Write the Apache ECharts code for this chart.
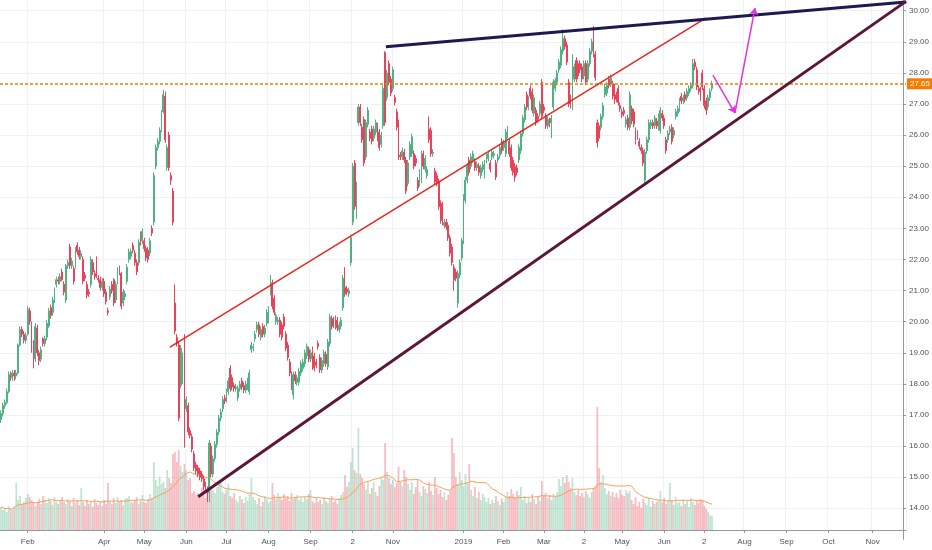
<!DOCTYPE html>
<html>
<head>
<meta charset="utf-8">
<title>Candles</title>
<script src="https://cdn.jsdelivr.net/npm/echarts/dist/echarts.min.js"></script>
<style>
  html, body { margin: 0; padding: 0; background: #fff; }
  #chart { width: 932px; height: 550px; }
</style>
</head>
<body>
<div id="chart"></div>
<script>
// daily bars [open, close, low, high]
var candlesJanApr18 = [
  [16.85,17.05,16.75,17.15],[17.05,17.3,16.95,17.4],[17.3,17.4,17.2,17.5],[17.4,17.75,17.35,17.85],
  [17.75,18.3,17.7,18.4],[18.3,18.2,18.1,18.4],[18.2,18.35,18.1,18.45],[18.35,18.25,18.1,18.45],
  [18.25,18.35,18.15,18.45],[18.35,19.25,18.3,19.3],[19.25,19.75,19.2,19.85],[19.75,19.6,19.5,19.85],
  [19.6,19.4,19.3,19.7],[19.4,19.55,19.3,19.65],[19.6,20.4,19.55,20.5],[20.35,20.0,19.9,20.45],
  [19.9,19.1,19.0,20.0],[19.3,18.65,18.5,19.4],[18.8,19.85,18.7,19.95],[19.8,19.0,18.9,19.9],
  [19.0,18.75,18.6,19.1],[18.8,19.1,18.7,19.2],[19.45,19.3,19.2,19.5],[19.3,19.45,19.2,19.55],
  [19.5,19.95,19.4,20.05],[19.85,20.35,19.8,20.45],[20.45,20.2,20.1,20.55],[20.3,20.7,20.2,20.8],
  [20.7,21.0,20.6,21.1],[21.2,21.35,21.1,21.45],[21.35,21.3,21.2,21.45],[21.3,21.45,21.2,21.55],
  [21.6,21.35,21.3,21.7],[21.2,20.95,20.85,21.3],[20.7,21.8,20.6,21.85],[21.8,21.9,21.7,22.0],
  [22.4,21.8,21.7,22.5],[21.8,21.95,21.7,22.05],[21.7,21.3,21.2,21.8],[21.75,22.3,21.7,22.4],
  [22.45,22.25,22.15,22.55],[22.3,22.1,22.0,22.4],[22.1,22.2,22.0,22.3],[22.0,21.3,21.2,22.1],
  [21.5,21.4,21.3,21.6],[21.2,20.85,20.75,21.3],[20.95,20.9,20.8,21.05],[21.2,22.0,21.1,22.1],
  [21.9,21.6,21.5,22.0],[21.55,21.45,21.35,21.65],[22.0,21.45,21.4,22.1],[21.4,21.35,21.25,21.5],
  [21.35,21.1,21.0,21.45],[21.1,21.3,21.0,21.4],[21.3,20.9,20.8,21.4],[20.95,20.65,20.55,21.05],
  [20.35,20.3,20.2,20.45],[20.8,21.05,20.7,21.15],[21.2,21.0,20.9,21.3],[21.35,20.6,20.5,21.4],
  [20.7,21.2,20.6,21.3],[21.3,21.6,21.2,21.75],[21.7,21.6,21.5,21.8]
];
var candlesAprJun18 = [
  [21.55,20.5,20.4,21.6],[20.6,20.95,20.5,21.05],[20.8,20.9,20.7,21.0],[21.3,21.75,21.2,21.85],
  [22.0,22.25,21.9,22.35],[22.1,22.25,22.0,22.35],[22.45,22.3,22.2,22.55],[22.2,21.9,21.8,22.3],
  [21.9,21.6,21.5,22.0],[21.9,22.55,21.8,22.65],[22.8,22.55,22.45,22.9],[22.6,22.9,22.5,23.0],
  [22.6,22.35,22.25,22.7],[22.35,22.05,21.95,22.45],[22.3,22.0,21.9,22.4],[22.2,22.6,22.1,22.7],
  [23.0,22.85,22.75,23.1],[23.2,24.7,23.1,24.8],[25.0,25.6,24.9,25.7],[25.6,25.8,25.5,25.9],
  [25.8,26.15,25.7,26.25],[26.2,26.7,26.1,26.8],[26.75,27.3,26.7,27.45],[27.25,25.85,25.75,27.4],
  [24.95,25.6,24.85,25.7],[26.0,24.95,24.85,26.1],[24.7,24.55,24.4,24.8],[24.2,23.2,23.1,24.3],
  [20.6,19.7,19.6,21.2],[19.5,19.3,19.2,19.6],[19.25,16.9,16.8,19.35],[17.95,19.15,17.85,19.25],
  [18.1,18.9,18.0,19.0],[19.5,16.05,15.95,19.6],[17.2,17.5,17.1,17.6],[17.3,16.45,16.35,17.4],
  [16.5,16.35,16.25,16.6],[16.3,15.9,15.8,16.4],[15.75,15.3,15.2,15.85],[15.4,15.2,15.1,15.5],
  [15.3,15.1,15.0,15.4],[15.2,15.0,14.9,15.3],[15.1,14.95,14.85,15.2],[14.95,14.7,14.6,15.05],
  [14.75,14.65,14.55,14.85],[14.6,14.5,14.2,14.7],[14.5,16.1,14.2,16.2],[16.0,15.1,15.0,16.1],
  [15.1,15.6,15.0,15.7],[15.6,16.05,15.5,16.15],[16.05,16.45,15.95,16.55],[16.45,16.9,16.35,17.0],
  [16.9,17.1,16.8,17.2],[17.2,17.5,17.1,17.6]
];
var candlesJunOct18 = [
  [17.55,17.45,17.35,17.65],[17.5,17.75,17.4,17.85],[17.75,18.1,17.65,18.2],[18.5,17.85,17.75,18.6],
  [18.2,17.9,17.8,18.3],[17.95,17.85,17.75,18.05],[17.85,17.9,17.75,18.0],[17.55,17.85,17.45,17.95],
  [17.85,18.0,17.75,18.1],[18.1,17.9,17.8,18.2],[17.95,17.8,17.7,18.05],[17.8,18.0,17.7,18.1],
  [17.9,18.1,17.8,18.2],[17.75,18.35,17.65,18.45],[19.1,19.25,19.0,19.35],[19.15,19.2,19.05,19.3],
  [19.45,19.6,19.35,19.7],[19.75,19.9,19.65,20.0],[19.9,19.6,19.5,20.0],[19.5,19.75,19.4,19.85],
  [19.85,19.6,19.5,19.95],[19.6,19.8,19.5,19.9],[19.95,20.3,19.85,20.4],[20.05,20.4,19.95,20.5],
  [20.95,21.3,20.85,21.5],[21.25,20.5,20.4,21.35],[20.75,20.3,20.2,20.85],[20.0,20.2,19.9,20.3],
  [20.0,20.05,19.9,20.15],[20.05,19.6,19.5,20.15],[19.9,19.5,19.4,20.0],[20.15,19.85,19.75,20.25],
  [19.6,19.15,19.05,19.7],[19.25,18.85,18.75,19.35],[18.7,18.35,18.25,18.8],[18.3,17.9,17.8,18.4],
  [17.65,18.3,17.5,18.4],[18.3,18.1,18.0,18.4],[18.05,18.2,17.95,18.3],[18.05,18.4,17.95,18.5],
  [18.35,18.65,18.25,18.75],[18.5,18.7,18.4,18.8],[18.65,19.0,18.55,19.1],[18.9,19.2,18.8,19.3],
  [19.1,18.8,18.7,19.2],[18.8,19.0,18.7,19.1],[19.1,18.55,18.45,19.2],[18.9,18.5,18.4,19.0],
  [18.7,18.6,18.5,18.8],[19.3,19.2,19.1,19.4],[18.85,18.45,18.35,18.95],[18.45,18.75,18.35,18.85],
  [18.65,19.0,18.55,19.1],[18.95,18.65,18.55,19.05],[18.55,19.35,18.45,19.45],[19.3,20.15,19.2,20.25],
  [20.1,19.85,19.75,20.2],[20.05,19.9,19.8,20.15],[20.1,19.85,19.75,20.2],[20.05,19.8,19.7,20.15],
  [19.75,19.9,19.65,20.0],[19.85,20.05,19.75,20.15],[20.45,21.4,20.35,21.5],[21.1,20.9,20.8,21.75],
  [21.05,20.95,20.85,21.15],[20.9,21.0,20.8,21.1]
];
var candlesOct18Jan19 = [
  [21.9,22.7,21.8,22.8],[23.2,25.0,23.1,25.1],[25.1,23.7,23.6,25.2],[23.9,24.4,23.3,24.5],
  [26.4,26.9,26.3,27.0],[26.9,26.4,26.3,27.0],[26.25,25.85,25.75,26.35],[26.5,25.1,25.0,26.6],
  [25.3,26.4,25.2,26.5],[26.35,26.8,26.25,26.9],[26.1,25.9,25.8,26.2],[26.2,25.8,25.7,26.3],
  [25.9,26.2,25.8,26.3],[26.1,26.4,26.0,26.5],[26.3,25.9,25.8,26.4],[26.1,25.6,25.5,26.2],
  [25.7,26.0,25.6,26.1],[26.3,27.5,26.2,27.6],[28.65,26.4,26.3,28.7],[27.2,28.0,27.1,28.1],
  [28.3,27.7,27.6,28.4],[27.8,27.35,27.25,27.9],[27.5,28.1,27.4,28.2],[27.2,27.05,26.95,27.3],
  [26.75,26.25,26.15,26.85],[26.4,25.3,25.2,26.5],[25.35,25.3,25.2,25.45],[25.3,25.5,25.2,25.6],
  [25.45,25.2,25.1,25.55],[25.2,24.2,24.1,25.3],[24.45,25.1,24.35,25.2],[25.3,25.7,25.2,25.8],
  [25.4,25.95,25.3,26.05],[25.4,25.0,24.9,25.5],[25.25,25.1,25.0,25.35],[24.55,24.3,24.2,24.65],
  [24.45,24.8,24.35,24.9],[24.55,25.4,24.45,25.5],[25.4,25.0,24.9,25.5],[24.9,25.25,24.8,25.35],
  [24.7,24.9,24.6,25.0],[26.2,25.85,25.75,26.6],[26.15,25.4,25.3,26.25],[25.4,25.45,25.3,25.55],
  [24.85,24.5,24.4,24.95],[24.7,24.45,24.35,24.8],[24.5,23.7,23.6,24.6],[23.8,23.25,23.15,23.9],
  [23.75,23.2,23.1,23.85],[23.1,23.2,23.0,23.3],[23.2,23.05,22.95,23.3],[23.1,22.7,22.6,23.2],
  [22.7,22.2,22.1,22.8],[22.4,21.9,21.8,22.5],[21.75,21.35,21.0,21.85],[21.6,21.4,21.3,21.7],
  [20.6,21.55,20.45,21.65],[21.5,21.9,21.4,22.0],[22.05,22.6,21.95,22.7],[22.6,24.0,22.5,24.1]
];
var candlesJanMar19 = [
  [23.9,24.55,23.8,24.65],[24.55,25.0,24.45,25.1],[25.2,24.8,24.7,25.3],[25.0,25.3,24.9,25.4],
  [25.2,25.4,25.1,25.5],[25.15,24.95,24.85,25.25],[24.95,25.05,24.85,25.15],[25.0,24.8,24.7,25.1],
  [24.7,24.95,24.6,25.05],[24.9,25.05,24.8,25.15],[24.7,25.1,24.6,25.2],[25.2,25.3,25.1,25.4],
  [25.25,25.4,25.15,25.5],[25.1,24.9,24.8,25.2],[25.3,25.45,25.2,25.55],[25.35,25.4,25.25,25.5],
  [25.1,24.65,24.55,25.2],[25.2,25.3,25.1,25.4],[25.35,25.6,25.25,25.7],[25.8,25.5,25.4,25.9],
  [25.6,25.75,25.5,25.85],[25.4,26.1,25.3,26.2],[26.0,26.2,25.9,26.3],[25.8,25.4,25.3,25.9],
  [25.6,24.95,24.85,25.7],[25.2,24.8,24.7,25.3],[25.0,24.65,24.5,25.1],[24.95,24.8,24.7,25.05],
  [25.2,25.6,25.1,25.7],[25.5,26.05,25.4,26.15],[26.05,26.55,25.95,26.65],[26.5,26.9,26.4,27.0],
  [27.3,26.9,26.8,27.4],[26.9,27.15,26.8,27.25],[27.5,27.25,27.15,27.6],[27.4,26.8,26.7,27.5],
  [26.7,27.2,26.6,27.3],[26.8,26.4,26.3,26.9],[26.6,26.5,26.4,26.7],[26.7,27.0,26.6,27.1],
  [27.7,26.6,26.5,27.8],[26.9,26.8,26.7,27.0],[26.6,26.3,26.2,26.7],[26.3,26.5,26.2,26.6],
  [26.45,26.35,26.25,26.55],[26.4,26.55,25.9,26.65],[26.9,27.7,26.8,27.8],[27.5,27.75,27.4,27.85],
  [27.7,28.0,27.6,28.1],[28.1,28.35,28.0,28.45],[28.25,28.75,28.15,28.85],[28.7,29.1,28.6,29.4],
  [29.1,28.85,28.75,29.2],[28.9,28.35,28.25,29.0],[27.7,27.0,26.9,27.8],[27.2,26.95,26.85,27.3],
  [26.9,28.5,26.8,28.6],[27.8,28.2,27.7,28.3],[28.4,27.8,27.7,28.5],[28.3,27.9,27.8,28.4],
  [28.3,28.1,28.0,28.4],[28.2,27.8,27.7,28.3],[27.9,28.3,27.8,28.4],[28.3,27.7,27.6,28.4],
  [27.8,28.3,27.7,28.4]
];
var candlesAprJul19 = [
  [28.3,28.7,28.2,28.8],[28.7,29.0,28.6,29.1],[29.2,28.6,28.5,29.5],[28.6,27.85,27.75,28.7],
  [26.4,25.75,25.6,26.5],[26.3,25.9,25.8,26.4],[26.25,26.6,26.15,26.7],[26.6,26.95,26.5,27.05],
  [27.3,27.55,27.2,27.65],[27.35,27.6,27.25,27.7],[27.8,27.6,27.5,27.9],[27.65,27.85,27.55,27.95],
  [27.65,27.25,27.15,27.75],[27.55,27.1,27.0,27.65],[27.3,27.15,27.05,27.4],[27.5,27.05,26.95,27.6],
  [26.95,26.85,26.75,27.05],[26.75,26.65,26.55,26.85],[26.8,26.7,26.6,26.9],[26.35,26.5,26.25,26.6],
  [26.55,26.25,26.15,26.65],[26.25,27.3,26.15,27.4],[26.85,26.45,26.35,26.95],[26.75,26.35,26.25,26.85],
  [26.15,25.8,25.7,26.25],[26.05,25.95,25.85,26.15],[25.8,25.65,25.55,25.9],[25.6,25.5,25.4,25.7],
  [25.5,25.1,25.0,25.6],[24.55,25.45,24.45,25.55],[25.5,25.85,25.4,25.95],[25.85,26.4,25.75,26.5],
  [26.3,26.4,26.2,26.5],[26.4,26.3,26.2,26.5],[26.3,26.55,26.2,26.65],[26.45,26.3,26.2,26.55],
  [26.25,26.6,26.15,26.7],[26.15,26.8,26.05,26.9],[26.7,26.55,26.45,26.8],[26.55,26.3,26.2,26.65],
  [25.85,25.5,25.4,25.95],[25.85,26.05,25.75,26.15],[26.1,26.2,26.0,26.3],[26.25,25.8,25.7,26.35],
  [26.0,26.15,25.9,26.25],[26.6,26.75,26.5,26.85],[26.7,26.85,26.6,26.95],[26.85,27.1,26.75,27.2],
  [27.25,27.1,27.0,27.35],[27.1,27.2,27.0,27.3],[27.3,27.15,27.05,27.4],[27.2,27.4,27.1,27.5],
  [27.35,27.5,27.25,27.6],[27.5,27.6,27.4,27.7],[27.6,28.3,27.5,28.45],[28.35,28.2,28.1,28.45],
  [28.1,27.55,27.45,28.2],[27.5,27.4,27.3,27.6],[27.45,27.2,27.1,27.55],[28.0,27.55,27.45,28.1],
  [27.5,26.95,26.85,27.6],[27.1,26.8,26.65,27.2],[26.9,27.2,26.8,27.3],[27.2,27.4,27.1,27.5],
  [27.5,27.65,27.4,27.75]
];

// volume, millions
var volume2018a = [
  2.3,2.0,2.2,1.8,2.4,2.1,2.0,2.3,4.7,3.0,3.4,2.6,2.8,3.2,3.6,3.3,3.0,2.7,
  2.4,2.8,3.1,2.6,3.4,3.0,2.7,3.2,2.9,2.5,3.3,2.8,2.6,3.0,
  3.3,2.8,2.6,3.1,2.9,2.4,3.2,2.7,3.0,2.5,4.2,
  2.8,2.4,3.0,2.6,2.9,2.3,3.1,2.7,2.5,2.8,2.4,3.0,2.6,4.7,
  2.9,2.6,3.2,2.7,3.3,2.8,3.0,2.5,3.1,
  3.2,3.4,2.8,2.7,3.0,3.3,2.6,2.9,3.5,2.8,2.7,3.1,3.6,3.2,
  6.8,5.0,4.4,5.3,4.6,4.8,4.2,6.0,5.2,4.7,
  7.6,7.8,6.8,8.0,6.4,5.8,6.6,6.0,5.0,5.2,
  3.7,3.9,3.5,3.7,3.4,4.2,4.8,3.2,3.8,
  5.6,4.4,4.0,3.7,4.3,4.8,5.0,3.8
];
var volume2018b = [
  3.6,4.0,4.6,3.4,3.2,3.7,3.0,2.8,3.4,3.1,2.7,3.3,2.9,3.6,5.2,
  3.3,3.0,2.6,3.2,2.4,2.8,3.4,3.1,2.7,2.9,4.7,
  3.5,3.1,3.7,3.3,3.0,3.6,3.2,3.4,2.9,3.7,3.1,3.3,3.5,3.0,3.2,2.8,3.4,3.1,3.6,4.0,
  2.9,2.7,3.2,2.8,3.0,2.6,3.3,2.9,2.7,3.1,3.4,2.8,3.0,2.6,3.2,3.5,3.8,5.5,
  4.3,4.8,6.8,8.2,6.0,5.7,10.2,
  5.6,5.2,4.6,4.0,4.8,3.6,4.2,4.8,3.8,3.4,4.4,5.3,5.0,8.7,
  5.8,5.2,4.6,5.0,4.3,4.7,6.3,4.8,4.4,6.0,5.3,4.6,
  4.0,4.8,3.6,4.3,5.0,3.8,3.4,4.4,4.1,3.7,4.8,3.9,3.5,5.3,4.2,
  3.6,4.0,3.3,3.8,3.0,3.5,3.9,9.2,7.7,
  5.3,4.6,5.8,5.0,4.4
];
var volume2019 = [
  5.6,4.8,6.6,
  4.0,3.4,4.3,3.2,3.8,3.0,3.6,3.3,
  2.8,3.2,2.6,3.0,2.7,3.4,2.9,2.5,3.1,2.8,3.3,
  3.8,3.4,4.1,3.6,3.2,3.9,3.5,4.3,
  3.0,3.4,2.7,3.2,2.8,3.6,3.1,2.6,3.3,2.9,4.9,
  3.4,3.7,3.2,3.5,3.0,3.6,3.3,3.8,
  5.1,4.4,5.3,4.7,5.5,4.8,4.2,5.2,
  3.8,3.5,4.0,3.4,3.7,3.3,3.9,3.6,3.2,3.8,4.1,4.4,
  12.3,6.2,4.8,5.5,
  4.2,3.6,3.9,3.4,3.8,3.3,3.7,3.2,4.0,3.5,3.4,4.0,3.7,3.9,
  3.0,2.6,3.3,2.4,2.8,2.2,3.1,2.7,2.5,3.2,2.3,2.9,2.6,2.8,3.0,3.9,
  2.8,3.2,2.6,3.0,4.7,
  3.0,2.5,3.3,2.7,2.8,2.4,3.1,2.6,2.9,2.3,3.2,2.8,2.5,3.0,2.7,3.1,3.0,
  2.4,2.1,1.8,1.5,1.4
];

// x axis month labels (bar index / text)
var tickBars = [14, 54, 75, 97, 118, 140, 162, 184, 205, 242, 263, 284, 305, 325, 347, 368, 389, 411, 433, 456];
var tickLabels = ['Feb','Apr','May','Jun','Jul','Aug','Sep','2','Nov','2019','Feb','Mar','2','May','Jun','2','Aug','Sep','Oct','Nov'];

// drawn lines, [bar index, price]
var wedgeTop = [[201.4, 28.84], [473.5, 30.28]];
var wedgeBottom = [[103.2, 14.37], [473.5, 30.30]];
var channelLine = [[88.4, 19.18], [368.9, 29.77]];
var arrowDown = [[372.5, 27.93], [384.0, 26.71]];
var arrowUp = [[384.0, 26.71], [394.5, 30.09]];

var barCount = 474;
var pMin = 13.302, pMax = 30.344;

var upColor = '#4fb283', downColor = '#e8435a';
var textColor = '#50535e', axisColor = '#9598a1', gridColor = '#eff1f4';
var font = 'Liberation Sans';

function initChart() {
    var myChart = echarts.init(document.getElementById('chart'));

    var candles = [].concat(candlesJanApr18, candlesAprJun18, candlesJunOct18,
        candlesOct18Jan19, candlesJanMar19, candlesAprJul19);
    var volumes = [].concat(volume2018a, volume2018b, volume2019);
    var lastPrice = candles[candles.length - 1][1];

    var categories = [];
    for (var i = 0; i < barCount; i++) categories.push(String(i));

    var tickText = {};
    for (var t = 0; t < tickBars.length; t++) tickText[tickBars[t]] = tickLabels[t];
    var isTick = function (index) { return tickText[index] !== undefined; };

    var volData = [];
    var volMA = [];
    for (var j = 0; j < volumes.length; j++) {
        var c = candles[j];
        var up = c ? c[1] >= c[0] : true;
        volData.push({
            value: volumes[j],
            itemStyle: {color: up ? 'rgba(83,185,135,0.38)' : 'rgba(235,77,92,0.38)'}
        });
        // 20 bar average
        var s = Math.max(0, j - 19), sum = 0;
        for (var k = s; k <= j; k++) sum += volumes[k];
        volMA.push(+(sum / (j - s + 1)).toFixed(3));
    }

    // plot height is 530px; second grid (taller, same scale) carries the whole-number price ticks
    var plotH = 530;
    var pxPerUnit = plotH / (pMax - pMin);
    var tickGridBottom = 550 - (plotH + (pMin - 13) * pxPerUnit);

    var lineSeries = function (data, color, width) {
        return {
            type: 'line', xAxisIndex: 1, yAxisIndex: 0, data: data,
            symbol: 'none', silent: true, z: 5, animation: false,
            lineStyle: {color: color, width: width}
        };
    };

    option = {
        animation: false,
        backgroundColor: '#ffffff',
        grid: [
            {left: 0, right: 26, top: 0, bottom: 550 - plotH},
            {left: 0, right: 26, top: 0, bottom: tickGridBottom}
        ],
        xAxis: [
            {
                type: 'category', gridIndex: 0, data: categories, boundaryGap: true,
                axisLine: {onZero: false, lineStyle: {color: axisColor, width: 1}},
                axisTick: {show: true, alignWithLabel: true, interval: isTick, length: 3, lineStyle: {color: axisColor}},
                axisLabel: {
                    interval: isTick, color: textColor, fontSize: 8, fontFamily: font, margin: 8,
                    formatter: function (v, idx) { return tickText[idx] || ''; }
                },
                splitLine: {show: true, interval: isTick, lineStyle: {color: gridColor, width: 1}}
            },
            {type: 'value', gridIndex: 0, min: -0.5, max: barCount - 0.5, show: false, axisLine: {onZero: false}},
            {type: 'value', gridIndex: 1, min: 0, max: 1, show: false, axisLine: {onZero: false}}
        ],
        yAxis: [
            {type: 'value', gridIndex: 0, min: pMin, max: pMax, show: false, axisLine: {onZero: false}},
            {type: 'value', gridIndex: 0, min: 0, max: plotH / 10, show: false, axisLine: {onZero: false}},
            {
                type: 'value', gridIndex: 1, position: 'right', min: 13, max: pMax, interval: 1,
                axisLine: {show: true, onZero: false, lineStyle: {color: axisColor, width: 1}},
                axisTick: {show: true, length: 3, lineStyle: {color: axisColor}},
                axisLabel: {
                    color: textColor, fontSize: 8, fontFamily: font, margin: 6,
                    showMinLabel: false, showMaxLabel: false,
                    formatter: function (v) { return (v < 14 || v > 30) ? '' : v.toFixed(2); }
                },
                splitLine: {show: true, showMinLine: false, showMaxLine: false, lineStyle: {color: gridColor, width: 1}}
            }
        ],
        series: [
            {
                name: 'Volume', type: 'bar', xAxisIndex: 0, yAxisIndex: 1,
                data: volData, barWidth: '90%', z: 1, silent: true
            },
            {
                name: 'Volume MA', type: 'line', xAxisIndex: 0, yAxisIndex: 1,
                data: volMA, symbol: 'none', z: 2, silent: true,
                lineStyle: {color: '#f6a15a', width: 1}
            },
            {
                name: 'Price', type: 'candlestick', xAxisIndex: 0, yAxisIndex: 0,
                data: candles, barWidth: '72%', z: 3,
                itemStyle: {
                    color: upColor, color0: downColor,
                    borderColor: upColor, borderColor0: downColor, borderWidth: 1
                },
                markLine: {
                    silent: true, symbol: ['none', 'none'],
                    lineStyle: {color: '#f57c00', width: 1.5, type: [3, 2]},
                    label: {
                        show: true, position: 'end', distance: 1,
                        formatter: lastPrice.toFixed(2),
                        backgroundColor: '#f57c00', color: '#ffffff',
                        fontSize: 8, fontFamily: font, padding: [2, 3, 1, 3]
                    },
                    data: [{yAxis: lastPrice}]
                }
            },
            lineSeries(channelLine, '#e8261c', 1.5),
            lineSeries(wedgeTop, '#1d1a52', 3),
            lineSeries(wedgeBottom, '#5c1738', 3),
            {
                type: 'lines', coordinateSystem: 'cartesian2d', xAxisIndex: 1, yAxisIndex: 0,
                symbol: ['none', 'arrow'], symbolSize: 7, z: 6, silent: true,
                lineStyle: {color: '#e432e0', width: 1.5, opacity: 1},
                data: [{coords: arrowDown}, {coords: arrowUp}]
            },
            {type: 'line', xAxisIndex: 2, yAxisIndex: 2, data: []}
        ]
    };
    myChart.setOption(option);
}

initChart();
</script>
</body>
</html>
